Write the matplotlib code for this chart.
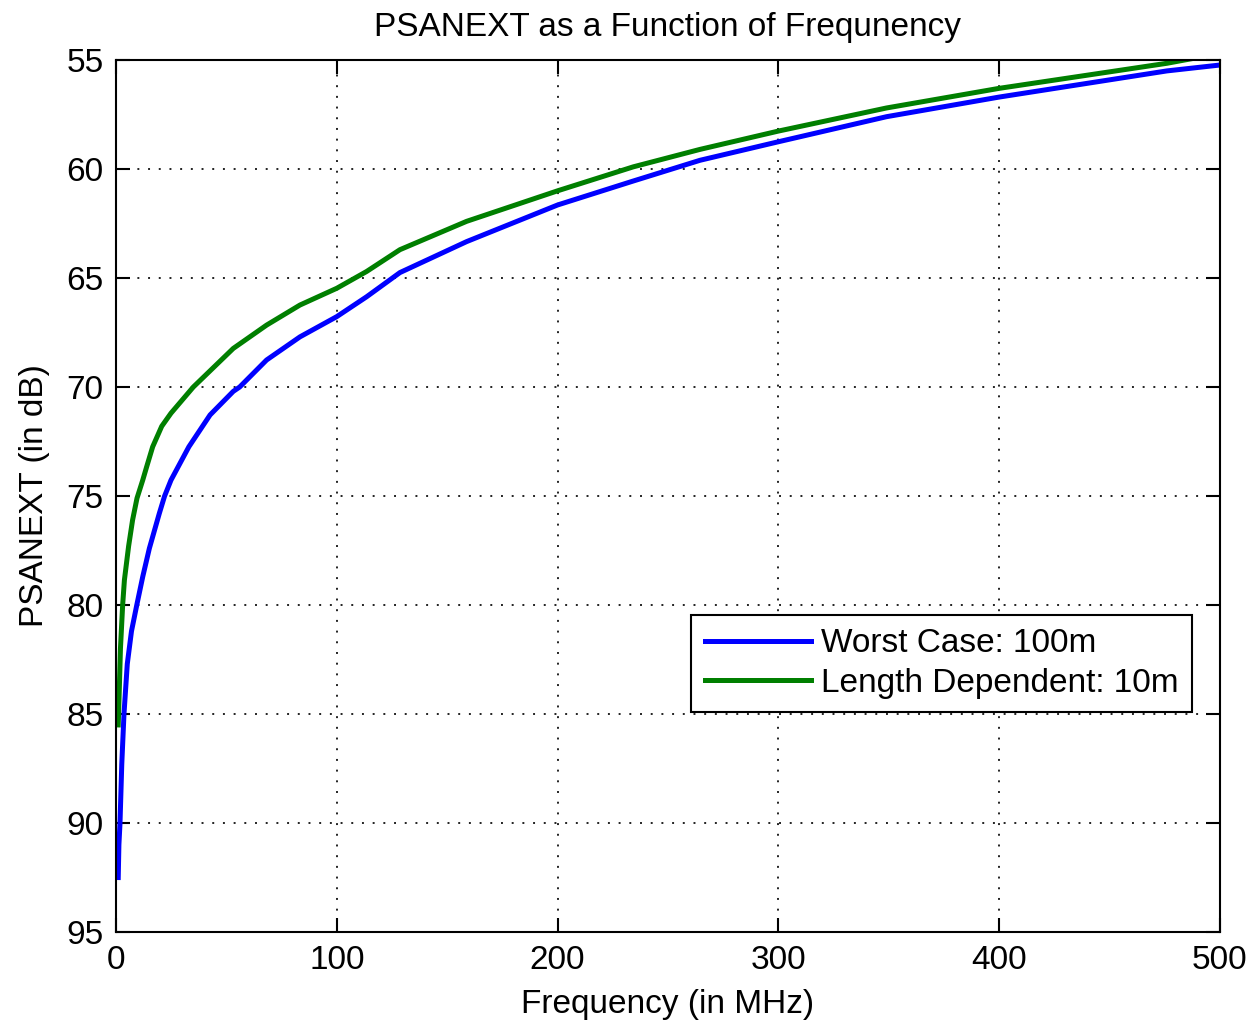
import matplotlib.pyplot as plt

plt.rcParams['font.family'] = ['Liberation Sans', 'DejaVu Sans']

# values
freq_worst = [1, 1.3, 1.8, 2.6, 3.6, 5.1, 7, 9.4, 12.1, 15.1, 19.6, 22, 24.9, 33, 42.6, 53.1,
              56, 68.2, 83.3, 100, 113.5, 128.6, 158.8, 200, 234.3, 264.5, 300, 349,
              400, 476, 500]
psanext_worst = [92.5, 91.0, 90.0, 87.3, 85.0, 82.7, 81.2, 80.0, 78.7, 77.4, 75.8, 75.0, 74.27,
                 72.74, 71.28, 70.2, 70.0, 68.76, 67.7, 66.77, 65.86, 64.75, 63.33, 61.65,
                 60.55, 59.6, 58.75, 57.6, 56.7, 55.5, 55.23]

freq_len = [1, 1.5, 2, 3, 3.8, 5.7, 7.5, 9.5, 12.1, 13.9, 16.6, 20.7, 24.9, 35, 53.1, 68.2,
            83.3, 100, 113.5, 128.6, 158.8, 200, 234.3, 264.5, 300, 349, 400, 476, 500]
psanext_len = [85.5, 83.8, 82.0, 80.0, 78.85, 77.3, 76.1, 75.1, 74.27, 73.65, 72.74, 71.8, 71.2,
               70.0, 68.23, 67.16, 66.24, 65.47, 64.7, 63.7, 62.4, 61.0, 59.9, 59.1, 58.26,
               57.2, 56.3, 55.15, 54.7]

fig = plt.figure(figsize=(12.53, 10.24), dpi=100)
ax = fig.add_axes([0.0926, 0.0898, 0.881, 0.8516])

ax.plot(freq_worst, psanext_worst, color='#0000ff', lw=3.6, label='Worst Case: 100m')
ax.plot(freq_len, psanext_len, color='#007f00', lw=3.6, label='Length Dependent: 10m')

ax.set_xlim(0, 500)
ax.set_ylim(95, 55)
ax.set_xticks(range(0, 501, 100))
ax.set_yticks(range(55, 96, 5))
ax.grid(True, linestyle=(0, (1, 4.5)), color='#222222', lw=1.4)
ax.tick_params(direction='in', length=10, width=1.5, top=True, right=True, labelsize=24, pad=9)
for s in ax.spines.values():
    s.set_linewidth(1.5)

ax.set_title('PSANEXT as a Function of Frequnency', fontsize=24, pad=17)
ax.set_xlabel('Frequency (in MHz)', fontsize=24, labelpad=10)
ax.set_ylabel('PSANEXT (in dB)', fontsize=24, labelpad=12)

leg = ax.legend(loc='upper right', bbox_to_anchor=(0.975, 0.3635), fontsize=24,
                fancybox=False, framealpha=1, edgecolor='black', handlelength=3.2,
                borderaxespad=0, labelspacing=0.25, handletextpad=0.3, borderpad=0.4)
leg.get_frame().set_linewidth(1.5)

fig.savefig('out.png')
